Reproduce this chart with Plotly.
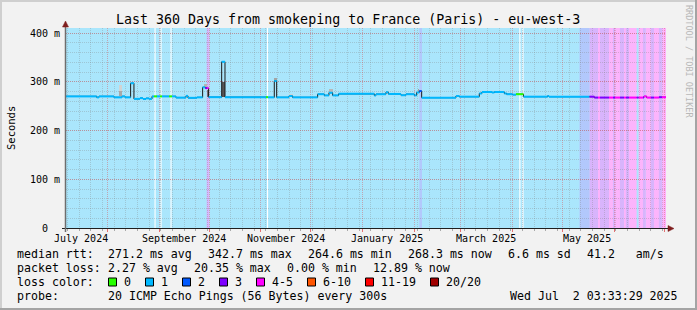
import plotly.graph_objects as go
from datetime import datetime

# ---------------- data ----------------
t_start = "2024-07-07 03:33:29"
t_end = "2025-07-02 03:33:29"
y_max = 410.3

y_tick_vals = [0, 100, 200, 300, 400]
y_tick_text = ["0  ", "100 m", "200 m", "300 m", "400 m"]

x_label_dates = ["2024-07-16", "2024-09-16", "2024-11-16", "2025-01-16", "2025-03-16", "2025-05-16"]
x_label_text = ["July 2024", "September 2024", "November 2024", "January 2025", "March 2025", "May 2025"]

# median rtt (step series): start time of each step, value in ms, loss level
med_time = [
    "2024-07-07 03:33", "2024-07-25 14:00", "2024-07-26 23:00", "2024-08-04 22:00", "2024-08-09 18:00",
    "2024-08-11 13:00", "2024-08-14 22:00", "2024-08-16 22:00", "2024-08-20 13:00", "2024-08-22 08:00",
    "2024-08-24 03:00", "2024-08-25 22:00", "2024-08-27 18:00", "2024-08-28 22:00", "2024-08-30 18:00",
    "2024-09-01 13:00", "2024-09-02 18:00", "2024-09-06 22:00", "2024-09-08 18:00", "2024-09-11 03:00",
    "2024-09-17 03:00", "2024-09-18 08:00", "2024-09-23 17:00", "2024-09-27 03:00", "2024-09-28 17:00",
    "2024-09-29 20:00", "2024-09-30 17:00", "2024-10-08 13:00", "2024-10-10 13:00", "2024-11-04 03:00",
    "2024-11-05 08:00", "2024-11-09 03:00", "2024-11-10 13:00", "2024-11-17 22:00", "2024-11-20 03:00",
    "2024-12-05 03:00", "2024-12-09 03:00", "2024-12-11 22:00", "2024-12-14 03:00", "2024-12-17 17:00",
    "2025-01-08 03:00", "2025-01-09 03:00", "2025-01-15 03:00", "2025-01-16 13:00", "2025-01-24 03:00",
    "2025-01-27 03:00", "2025-02-01 03:00", "2025-02-02 13:00", "2025-02-04 03:00", "2025-02-05 13:00",
    "2025-02-26 03:00", "2025-02-28 03:00", "2025-03-12 03:00", "2025-03-13 17:00", "2025-03-19 17:00",
    "2025-03-21 03:00", "2025-03-27 03:00", "2025-03-28 13:00", "2025-04-01 03:00", "2025-04-03 03:00",
    "2025-04-07 15:00", "2025-04-22 03:00", "2025-04-22 22:00", "2025-05-17 06:00", "2025-05-20 03:00",
    "2025-05-22 08:00", "2025-05-23 13:00", "2025-05-28 22:00", "2025-05-31 08:00", "2025-06-01 13:00",
    "2025-06-04 13:00", "2025-06-06 22:00", "2025-06-08 03:00", "2025-06-09 22:00", "2025-06-14 13:00",
    "2025-06-15 17:00", "2025-06-18 08:00", "2025-06-18 22:00", "2025-06-20 13:00", "2025-06-23 03:00",
    "2025-06-24 22:00", "2025-06-27 22:00", "2025-06-29 17:00",
]
med_val = [
    270, 268, 270, 268, 270,
    268, 297, 265, 266.5, 264.6,
    266, 265, 270, 270, 270,
    270, 270, 270, 270, 267.5,
    271, 267, 268, 288.6, 287,
    287, 268.4, 341, 268.4, 268.4,
    268, 301.5, 268, 270.8, 268,
    274.5, 272, 277.5, 272, 275.2,
    272, 274.5, 278.5, 275, 272.4,
    274.5, 272, 278, 281, 267.4,
    270.8, 269.4, 276, 279, 278,
    279, 276, 274.5, 273.5, 274.5,
    269.4, 271, 269.4, 269.4, 267.6,
    267.6, 267.6, 267.6, 267.6, 267.6,
    267.6, 267.6, 267.6, 267.6, 267.6,
    267.6, 267.6, 270, 267.6, 267.6,
    267.6, 268.3, 268.3,
]
med_loss = [
    1, 1, 1, 1, 1,
    1, 1, 1, 1, 1,
    1, 1, 1, 0, 1,
    0, 1, 0, 1, 1,
    1, 1, 1, 1, 3,
    4, 1, 1, 1, 0,
    1, 1, 1, 1, 1,
    1, 1, 1, 1, 1,
    1, 1, 1, 1, 1,
    1, 1, 1, 2, 1,
    1, 1, 1, 1, 1,
    1, 1, 1, 1, 0,
    1, 1, 1, 3, 3,
    4, 3, 4, 3, 4,
    3, 4, 3, 4, 3,
    4, 3, 4, 4, 3,
    4, 3, 4,
]

# background loss bands (start, end, level); "gap" = no data
band_start = [
    "2024-08-29 06:00", "2024-09-01 20:00", "2024-09-07 20:00", "2024-09-29 13:00", "2024-11-04 18:00",
    "2025-02-04 03:00", "2025-04-05 03:00", "2025-04-06 23:00", "2025-05-11 06:00", "2025-05-17 06:00",
    "2025-05-22 08:00", "2025-05-23 13:00", "2025-05-28 22:00", "2025-05-31 08:00", "2025-06-01 13:00",
    "2025-06-04 13:00", "2025-06-06 22:00", "2025-06-08 03:00", "2025-06-09 22:00", "2025-06-15 17:00",
    "2025-06-18 08:00", "2025-06-20 00:00", "2025-06-23 03:00", "2025-06-24 22:00", "2025-06-27 22:00",
    "2025-06-29 17:00",
]
band_end = [
    "2024-08-29 22:00", "2024-09-02 12:00", "2024-09-08 12:00", "2024-10-01 03:00", "2024-11-05 10:00",
    "2025-02-05 18:00", "2025-04-05 20:00", "2025-04-07 16:00", "2025-05-17 06:00", "2025-05-22 08:00",
    "2025-05-23 13:00", "2025-05-28 22:00", "2025-05-31 08:00", "2025-06-01 13:00", "2025-06-04 13:00",
    "2025-06-06 22:00", "2025-06-08 03:00", "2025-06-09 22:00", "2025-06-14 13:00", "2025-06-18 08:00",
    "2025-06-20 00:00", "2025-06-23 03:00", "2025-06-24 22:00", "2025-06-27 22:00", "2025-06-29 17:00",
    "2025-07-02 03:33:29",
]
band_level = [
    "gap", "gap", "gap", 3, "gap",
    2, "gap", "gap", 2, 3,
    4, 3, 4, 3, 4,
    3, 4, 3, 4, 4,
    3, 4, 3, 4, 3,
    4,
]

# smoke (ping spread) patches: start, end, low ms, high ms, shade
smoke_start = ["2024-08-07 22:00", "2024-08-07 22:00", "2024-09-27 22:00", "2024-09-29 17:00", "2024-10-08 17:00",
               "2024-11-09 03:00", "2024-11-17 22:00", "2024-12-11 22:00", "2025-02-03 03:00"]
smoke_end = ["2024-08-09 13:00", "2024-08-09 13:00", "2024-09-29 13:00", "2024-09-30 22:00", "2024-10-10 13:00",
             "2024-11-10 13:00", "2024-11-20 03:00", "2024-12-14 03:00", "2025-02-04 03:00"]
smoke_lo = [270, 270, 287, 268, 268, 301.5, 270.8, 277.5, 278]
smoke_hi = [293, 281, 296, 284, 300, 308, 275, 284.5, 285]
smoke_col = ["#d2d2d2", "#a8a8a8", "#b4b4b4", "#707070", "#555555", "#a4a4a4", "#d0d0d0", "#b8b8b8", "#a0a0a0"]

# legend texts
rtt_label = "median rtt:"
rtt_stats = ["271.2 ms avg", "342.7 ms max", "264.6 ms min", "268.3 ms now", "6.6 ms sd", "41.2   am/s"]
loss_label = "packet loss:"
loss_stats = ["2.27 % avg", "20.35 % max", "0.00 % min", "12.89 % now"]
color_label = "loss color:"
loss_names = ["0", "1", "2", "3", "4-5", "6-10", "11-19", "20/20"]
loss_legend_colors = ["#26ff00", "#00b8ff", "#0059ff", "#7e00ff", "#ff00ff", "#ff5500", "#ff0000", "#a10000"]
probe_label = "probe:"
probe_text = "20 ICMP Echo Pings (56 Bytes) every 300s"
stamp_text = "Wed Jul  2 03:33:29 2025"
title_text = "Last 360 Days from smokeping to France (Paris) - eu-west-3"

# ---------------- styling ----------------
W, H = 697, 310
PL, PT, PW, PH = 66, 28, 600, 200
MONO = "DejaVu Sans Mono"
line_col = {0: "#26ff00", 1: "#00b8ff", 2: "#0059ff", 3: "#7e00ff", 4: "#ff00ff"}
band_col = {"gap": "#ffffff", 1: "#aae6fc", 2: "#b2c8fc", 3: "#d8b4fc", 4: "#fcb4fc"}
BG = "#f2f2f2"


def px(x):
    return (x - PL) / PW


def py(y):
    return (PT + PH - y) / PH


def nb(s):
    return s.replace(" ", "\u00a0")


def ts(s):
    for f in ("%Y-%m-%d %H:%M:%S", "%Y-%m-%d %H:%M", "%Y-%m-%d"):
        try:
            return datetime.strptime(s, f)
        except ValueError:
            pass
    raise ValueError(s)


fig = go.Figure()

# smoke as bars
sx, sw, sb, sy = [], [], [], []
for a, b, lo, hi in zip(smoke_start, smoke_end, smoke_lo, smoke_hi):
    ta, tb = ts(a), ts(b)
    sx.append(ta + (tb - ta) / 2)
    sw.append((tb - ta).total_seconds() * 1000)
    sb.append(lo)
    sy.append(hi - lo)
fig.add_trace(go.Bar(x=sx, y=sy, base=sb, width=sw, marker=dict(color=smoke_col, line=dict(width=0)),
                     hoverinfo="skip", showlegend=False))

# median: dark step line (gives the vertical connectors)
fig.add_trace(go.Scatter(x=med_time + [t_end], y=med_val + [med_val[-1]], mode="lines",
                         line=dict(shape="hv", color="#1a1a1a", width=1), hoverinfo="skip", showlegend=False))

# median: coloured horizontal runs by loss level
ends = med_time[1:] + [t_end]
for lvl, col in line_col.items():
    xs, ys = [], []
    for a, b, v, l in zip(med_time, ends, med_val, med_loss):
        if l == lvl:
            xs += [a, b, None]
            ys += [v, v, None]
    if xs:
        fig.add_trace(go.Scatter(x=xs, y=ys, mode="lines", line=dict(color=col, width=2),
                                 hoverinfo="skip", showlegend=False))

shapes = []
# loss background bands (data coordinates on x)
for a, b, l in zip(band_start, band_end, band_level):
    shapes.append(dict(type="rect", xref="x", yref="paper", x0=a, x1=b, y0=0, y1=1,
                       fillcolor=band_col[l], line=dict(width=0), layer="below"))

# frame
shapes += [
    dict(type="line", xref="paper", yref="paper", x0=px(0), x1=px(W), y0=py(1), y1=py(1), line=dict(color="#cfcfcf", width=2)),
    dict(type="line", xref="paper", yref="paper", x0=px(1), x1=px(1), y0=py(0), y1=py(H), line=dict(color="#cfcfcf", width=2)),
    dict(type="line", xref="paper", yref="paper", x0=px(0), x1=px(W), y0=py(H - 1), y1=py(H - 1), line=dict(color="#a4a4a4", width=2)),
    dict(type="line", xref="paper", yref="paper", x0=px(W - 1), x1=px(W - 1), y0=py(0), y1=py(H), line=dict(color="#a4a4a4", width=2)),
]
# axis lines
shapes += [
    dict(type="line", xref="paper", yref="paper", x0=px(62), x1=px(669), y0=py(228.5), y1=py(228.5), line=dict(color="#1f1f1f", width=1)),
    dict(type="line", xref="paper", yref="paper", x0=px(65.5), x1=px(65.5), y0=py(232), y1=py(25), line=dict(color="#6e6e6e", width=1.5)),
]
# arrows
ARROW = "#7f1f1f"
shapes.append(dict(type="path", xref="paper", yref="paper", fillcolor=ARROW, line=dict(color=ARROW, width=0.5),
                   path=f"M {px(62.5)},{py(27)} L {px(68.5)},{py(27)} L {px(65.5)},{py(21)} Z"))
shapes.append(dict(type="path", xref="paper", yref="paper", fillcolor=ARROW, line=dict(color=ARROW, width=0.5),
                   path=f"M {px(668)},{py(225.5)} L {px(668)},{py(231.5)} L {px(674)},{py(228.5)} Z"))

ann = []
ann.append(dict(text=title_text, x=px(347.7), y=py(19), xref="paper", yref="paper", xanchor="center",
                yanchor="middle", showarrow=False, font=dict(family=MONO, size=13.3, color="#000")))
ann.append(dict(text="Seconds", x=px(11), y=py(128), xref="paper", yref="paper", textangle=-90,
                xanchor="center", yanchor="middle", showarrow=False, font=dict(family=MONO, size=10.5, color="#000")))
ann.append(dict(text=nb("RRDTOOL / TOBI OETIKER"), x=px(689), y=py(61), xref="paper", yref="paper", textangle=90,
                xanchor="center", yanchor="middle", showarrow=False, font=dict(family=MONO, size=8.5, color="#b8b8b8")))
for d, t in zip(x_label_dates, x_label_text):
    ann.append(dict(text=nb(t), x=d, y=py(238), xref="x", yref="paper", xanchor="center", yanchor="middle",
                    showarrow=False, font=dict(family=MONO, size=10, color="#000")))

FS = 11.6
CW = 7.0
GAP = 16


def txt(s, x, y, anchor="left"):
    ann.append(dict(text=nb(s), x=px(x - 1), y=py(y), xref="paper", yref="paper", xanchor=anchor,
                    yanchor="middle", showarrow=False, font=dict(family=MONO, size=FS, color="#000")))


rows = [253.5, 267.8, 282, 296.3]
txt(rtt_label, 16, rows[0])
x = 107.3
for s in rtt_stats:
    txt(s, x, rows[0])
    x += len(s) * CW + GAP
txt(loss_label, 16, rows[1])
x = 107.3
for s in loss_stats:
    txt(s, x, rows[1])
    x += len(s) * CW + GAP
txt(color_label, 16, rows[2])
x = 108
for name, col in zip(loss_names, loss_legend_colors):
    shapes.append(dict(type="rect", xref="paper", yref="paper", x0=px(x + 0.5), x1=px(x + 8.5),
                       y0=py(rows[2] + 4), y1=py(rows[2] - 4), fillcolor=col, line=dict(color="#000", width=1)))
    txt(name, x + 15, rows[2])
    x += 15 + len(name) * CW + 15
txt(probe_label, 16, rows[3])
txt(probe_text, 107.3, rows[3])
txt(stamp_text, 681, rows[3], anchor="right")

grid_minor = "rgba(130,130,130,0.32)"
grid_major = "rgba(225,60,60,0.38)"

fig.update_layout(
    width=W, height=H,
    margin=dict(l=PL, r=W - PL - PW, t=PT, b=H - PT - PH, pad=0),
    paper_bgcolor=BG, plot_bgcolor=band_col[1],
    barmode="overlay", bargap=0, showlegend=False, hovermode=False,
    shapes=shapes, annotations=ann,
    xaxis=dict(type="date", range=[t_start, t_end], fixedrange=True, showticklabels=False,
               tick0="2024-07-01", dtick="M1", showgrid=True, gridcolor=grid_major, griddash="1px,1px", gridwidth=1,
               ticks="outside", ticklen=3, tickcolor="rgba(222,60,60,0.7)", showline=False, zeroline=False,
               minor=dict(tick0="2024-07-01", dtick=7 * 86400000, showgrid=True, gridcolor=grid_minor,
                          griddash="1px,1px", ticks="outside", ticklen=2, tickcolor="#aaa")),
    yaxis=dict(range=[0, y_max], fixedrange=True, tickmode="array", tickvals=y_tick_vals,
               ticktext=[nb(t) for t in y_tick_text], tickfont=dict(family=MONO, size=10, color="#000"),
               showgrid=True, gridcolor=grid_major, griddash="1px,1px", ticks="", ticklabelstandoff=5,
               showline=False, zeroline=False,
               minor=dict(tickmode="linear", tick0=0, dtick=20, showgrid=True, gridcolor=grid_minor,
                          griddash="1px,1px")),
)

fig.write_html("out.html", config={"displayModeBar": False, "staticPlot": True})
